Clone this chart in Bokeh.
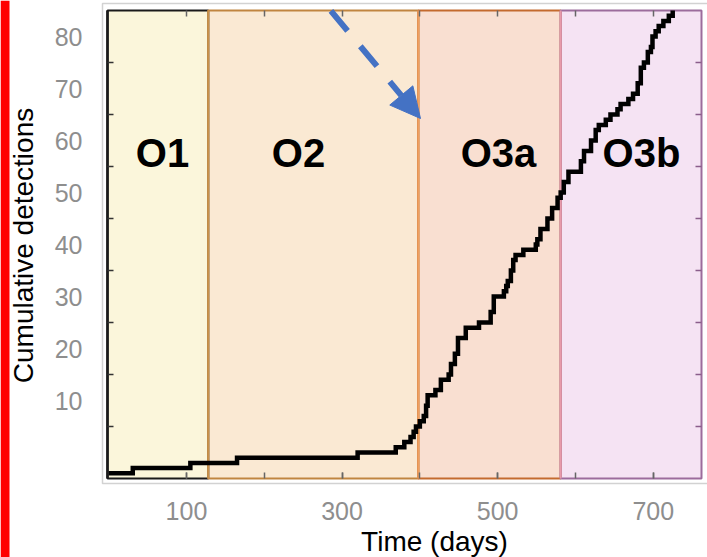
from bokeh.plotting import figure
from bokeh.models import (FixedTicker, LinearAxis, Range1d, Arrow, NormalHead, Label)
from bokeh.core.properties import value
from bokeh.embed import file_html
from bokeh.resources import INLINE

# ---------------- data ----------------
run_names = ["O1", "O2", "O3a", "O3b"]
run_starts = [0, 128, 398, 581]
run_ends = [128, 398, 581, 762]

event_days = [0, 31, 105, 165, 320, 369, 380, 388, 392, 395, 400, 405, 408, 410,
              420, 427, 437, 440, 445, 449, 459, 476, 491, 495, 508, 511, 513, 517,
              520, 523, 533, 549, 551, 555, 564, 570, 577, 581, 585, 591, 607, 611,
              620, 626, 630, 639, 645, 654, 658, 668, 674, 680, 684, 688, 693, 697,
              699, 703, 707, 713, 720, 725]
cumulative = [1, 2, 3, 4, 5, 6, 7, 8, 9, 10, 11, 12, 14, 16,
              17, 19, 20, 22, 24, 27, 29, 30, 32, 35, 36, 37, 38, 40,
              42, 43, 44, 45, 46, 48, 50, 52, 54, 55, 57, 59, 61, 63,
              65, 67, 68, 69, 70, 71, 72, 73, 74, 76, 79, 80, 82, 83,
              85, 86, 87, 88, 89, 90]

x_tick_values = [100, 200, 300, 400, 500, 600, 700]
x_tick_labels = ["100", "300", "500", "700"]
y_tick_values = [10, 20, 30, 40, 50, 60, 70, 80]
y_tick_labels = ["10", "20", "30", "40", "50", "60", "70", "80"]

# ---------------- layout (pixels -> data helpers) ----------------
W, H = 707, 557
X_LO, X_HI = -1.5, 762.0      # data extent of the plot box
Y_LO, Y_HI = 0.0, 90.0
BOX_L, BOX_R, BOX_T, BOX_B = 107, 701, 10, 478
SX = (BOX_R - BOX_L) / (X_HI - X_LO)
SY = (BOX_B - BOX_T) / (Y_HI - Y_LO)
XR0 = X_LO - BOX_L / SX
XR1 = X_HI + (W - BOX_R) / SX
YR1 = Y_HI + BOX_T / SY
YR0 = Y_LO - (H - BOX_B) / SY


def dx(px):
    return XR0 + px / SX


def dy(py):
    return YR1 - py / SY


FONT = "Liberation Sans"
run_fill = ["#FBF6DB", "#FAE9D3", "#F9DFD1", "#F5E3F3"]
run_edge = ["#1a1a1a", "#C08540", "#C46A2E", "#9C6C9C"]
divider_color = ["#C8924C", "#EFA060", "#E79AAA"]
label_px = [162, 298, 498, 641]
label_py = 152
TICK_GRAY = "#8e8e8e"
BLUE = "#4472C4"

p = figure(width=W, height=H, output_backend="svg", toolbar_location=None,
           x_range=Range1d(XR0, XR1), y_range=Range1d(YR0, YR1),
           x_axis_location=None, y_axis_location=None,
           min_border=0, min_border_left=0, min_border_right=0,
           min_border_top=0, min_border_bottom=0, outline_line_color=None,
           background_fill_color="white", border_fill_color="white")
p.grid.visible = False

# red bar on the left and light outer frame
p.quad(left=dx(0), right=dx(9), bottom=YR0, top=YR1, fill_color="#FF0000",
       line_color=None)
p.quad(left=dx(102), right=dx(730), bottom=dy(483), top=dy(3), fill_color=None,
       line_color="#d2d2d2", line_width=1.5)

# run backgrounds
lefts = [X_LO] + run_starts[1:]
rights = run_ends[:-1] + [X_HI]
p.quad(left=lefts, right=rights, bottom=Y_LO, top=Y_HI, fill_color=run_fill,
       line_color=None)
p.quad(left=lefts, right=rights, bottom=Y_LO, top=Y_HI, fill_color=None,
       line_color=run_edge, line_width=2)
p.segment(x0=run_starts[1:], x1=run_starts[1:], y0=Y_LO, y1=Y_HI,
          line_color=divider_color, line_width=2)
p.segment(x0=[X_LO], x1=[X_LO], y0=Y_LO, y1=Y_HI, line_color="#1a1a1a", line_width=2.6)

# run labels
p.text(x=[dx(v) for v in label_px], y=[dy(label_py)] * 4, text=run_names,
       text_font=value(FONT), text_font_style="bold", text_font_size="40px",
       text_align="center", text_baseline="middle", text_color="black")

# cumulative curve
p.step(x=event_days, y=cumulative, mode="after", line_color="black",
       line_width=4.5, line_join="miter")

# axes fixed to the plot box
label_pos = [v + 5 for v in y_tick_values]
yax = LinearAxis(fixed_location=X_LO,
                 ticker=FixedTicker(ticks=label_pos, minor_ticks=y_tick_values),
                 major_label_overrides={pos: lab for pos, lab in zip(label_pos, y_tick_labels)},
                 axis_line_color=None, major_tick_line_color=None,
                 major_tick_in=0, major_tick_out=0,
                 minor_tick_in=6, minor_tick_out=0, minor_tick_line_color="#333333",
                 minor_tick_line_width=1.5,
                 major_label_standoff=25, major_label_text_font=FONT,
                 major_label_text_font_size="25px", major_label_text_color=TICK_GRAY)
p.add_layout(yax, "left")

x_label_ticks = [int(s) for s in x_tick_labels]
xax = LinearAxis(fixed_location=Y_LO,
                 ticker=FixedTicker(ticks=x_label_ticks, minor_ticks=x_tick_values),
                 axis_line_color=None,
                 major_tick_in=6, major_tick_out=0, major_tick_line_color="#666666",
                 major_tick_line_width=1.5,
                 minor_tick_in=6, minor_tick_out=0, minor_tick_line_color="#666666",
                 minor_tick_line_width=1.5,
                 major_label_standoff=23, major_label_text_font=FONT,
                 major_label_text_font_size="25px", major_label_text_color=TICK_GRAY)
p.add_layout(xax, "below")

tax = LinearAxis(fixed_location=Y_HI, ticker=FixedTicker(ticks=x_tick_values),
                 axis_line_color=None,
                 major_tick_in=6, major_tick_out=0, major_tick_line_color="#666666",
                 major_tick_line_width=1.5, major_label_text_font_size="1px",
                 major_label_text_color=None, major_label_standoff=0)
p.add_layout(tax, "above")

rax = LinearAxis(fixed_location=X_HI, ticker=FixedTicker(ticks=y_tick_values),
                 axis_line_color=None,
                 major_tick_in=6, major_tick_out=0, major_tick_line_color="#8B5E8B",
                 major_tick_line_width=1.5, major_label_text_font_size="1px",
                 major_label_text_color=None, major_label_standoff=0)
p.add_layout(rax, "right")

# axis titles
p.add_layout(Label(x=dx(434), y=dy(541), text="Time (days)", text_font=FONT,
                   text_font_size="28px", text_align="center",
                   text_baseline="middle", text_color="black"))
p.add_layout(Label(x=dx(23), y=dy(245), text="Cumulative detections", text_font=FONT,
                   text_font_size="28px", text_align="center", angle=90,
                   angle_units="deg", text_baseline="middle", text_color="black"))

# blue dashed arrow
p.add_layout(Arrow(x_start=dx(301), y_start=dy(-25), x_end=dx(420), y_end=dy(118),
                   line_color=BLUE, line_width=6, line_dash="26 20",
                   end=NormalHead(size=30, fill_color=BLUE, line_color=BLUE)))

open("out.html", "w").write(file_html(p, INLINE))
